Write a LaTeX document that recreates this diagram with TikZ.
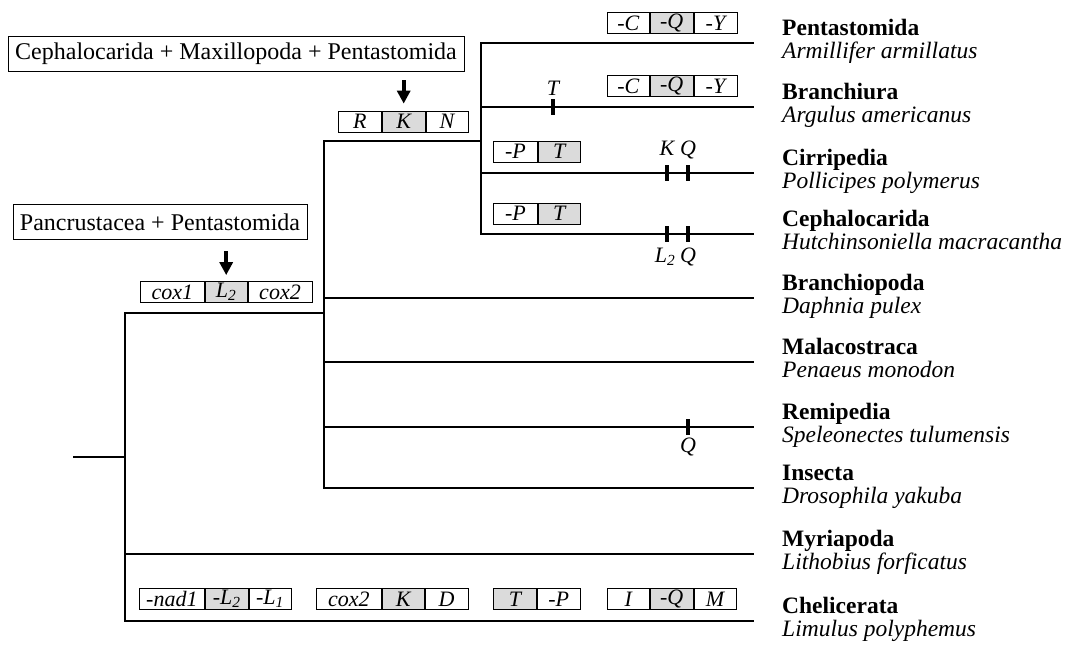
\documentclass[tikz,border=0pt]{standalone}
\usepackage{fontspec}
\setmainfont{Liberation Serif}
\usetikzlibrary{positioning,arrows.meta}

\tikzset{
  branch/.style={line width=1.8pt, line cap=rect},
  snp/.style={line width=3.6pt},
  snplabel/.style={anchor=base, inner sep=0pt, font=\fontsize{22}{22}\selectfont\itshape},
  cell/.style={draw, line width=0.8pt, fill=white, minimum height=21pt, inner sep=0pt,
    anchor=west, font=\fontsize{22}{22}\selectfont\itshape},
  cellg/.style={cell, fill=black!14},
  cladebox/.style={draw, line width=1pt, minimum height=35pt, inner sep=0pt,
    font=\fontsize{24}{24}\selectfont},
  pointer/.style={line width=3.6pt, -{Triangle[width=13pt,length=13pt]}},
  taxon/.style={anchor=base west, inner sep=0pt, font=\fontsize{23.5}{24}\selectfont\bfseries},
  species/.style={anchor=base west, inner sep=0pt, font=\fontsize{23.5}{24}\selectfont\itshape}
}

\begin{document}
\begin{tikzpicture}[x=1pt, y=-1pt, node distance=0pt]
\useasboundingbox (0,0) rectangle (1076,646);

% taxa
\foreach \y/\tax/\spec/\nm in {43/Pentastomida/Armillifer armillatus/pen,
  107/Branchiura/Argulus americanus/bru, 173/Cirripedia/Pollicipes polymerus/cir,
  234/Cephalocarida/Hutchinsoniella macracantha/cep, 298/Branchiopoda/Daphnia pulex/brp,
  362/Malacostraca/Penaeus monodon/mal, 427/Remipedia/Speleonectes tulumensis/rem,
  488/Insecta/Drosophila yakuba/ins, 554/Myriapoda/Lithobius forficatus/myr,
  621/Chelicerata/Limulus polyphemus/che}{
  \coordinate (t\nm) at (753,\y);
  \node[taxon] (\nm-t) at (782,\y-8) {\tax};
  \node[species] (\nm-s) at (782,\y+15) {\spec};
}

% tree
\coordinate (root) at (74,457);
\coordinate (arth) at (125,457);
\coordinate (pan) at (324,313);
\coordinate (cmp) at (481,141);
\draw[branch] (root) -- (arth);
\draw[branch] (pan) -| (arth);
\draw[branch] (tche) -| (arth);
\draw[branch] (tmyr) -- (tmyr -| arth);
\draw[branch] (cmp) -| (pan);
\draw[branch] (tins) -| (pan);
\draw[branch] (tbrp) -- (tbrp -| pan);
\draw[branch] (tmal) -- (tmal -| pan);
\draw[branch] (trem) -- (trem -| pan);
\draw[branch] (tpen) -| (cmp);
\draw[branch] (tcep) -| (cmp);
\draw[branch] (tbru) -- (tbru -| cmp);
\draw[branch] (tcir) -- (tcir -| cmp);

% single changes on branches
\coordinate (sT) at (553,107);
\coordinate (sK) at (667,173);
\coordinate (sQ1) at (688,173);
\coordinate (sL) at (667,234);
\coordinate (sQ2) at (688,234);
\coordinate (sQ3) at (688,427);
\foreach \s in {sT,sK,sQ1,sL,sQ2,sQ3}
  \draw[snp] ([yshift=8pt]\s) -- ([yshift=-8pt]\s);
\node[snplabel] (lT) at (553,95) {T};
\node[snplabel] (lK) at (667,155) {K};
\node[snplabel] (lQ1) at (688,155) {Q};
\node[snplabel] (lL) at (665,262) {L\textsubscript{2}};
\node[snplabel] (lQ2) at (688,262) {Q};
\node[snplabel] (lQ3) at (688,452) {Q};

% gene order boxes
\node[cell, minimum width=42pt] (pa1) at (607,23) {-C};
\node[cellg, minimum width=43pt, right=of pa1] (pa2) {-Q};
\node[cell, minimum width=43pt, right=of pa2] (pa3) {-Y};

\node[cell, minimum width=42pt] (ba1) at (607,86) {-C};
\node[cellg, minimum width=43pt, right=of ba1] (ba2) {-Q};
\node[cell, minimum width=43pt, right=of ba2] (ba3) {-Y};

\node[cell, minimum width=43pt] (ca1) at (338,121.5) {R};
\node[cellg, minimum width=43pt, right=of ca1] (ca2) {K};
\node[cell, minimum width=42pt, right=of ca2] (ca3) {N};

\node[cell, minimum width=44pt] (ci1) at (493,151.5) {-P};
\node[cellg, minimum width=42pt, right=of ci1] (ci2) {T};

\node[cell, minimum width=44pt] (ce1) at (493,213.5) {-P};
\node[cellg, minimum width=42pt, right=of ce1] (ce2) {T};

\node[cell, minimum width=64pt] (pc1) at (140,292) {cox1};
\node[cellg, minimum width=42pt, right=of pc1] (pc2) {L\textsubscript{2}};
\node[cell, minimum width=64pt, right=of pc2] (pc3) {cox2};

\node[cell, minimum width=65pt] (ch1) at (139,599) {-nad1};
\node[cellg, minimum width=43pt, right=of ch1] (ch2) {-L\textsubscript{2}};
\node[cell, minimum width=42pt, right=of ch2] (ch3) {-L\textsubscript{1}};

\node[cell, minimum width=65pt] (ch4) at (316,599) {cox2};
\node[cellg, minimum width=42pt, right=of ch4] (ch5) {K};
\node[cell, minimum width=43pt, right=of ch5] (ch6) {D};

\node[cellg, minimum width=43pt] (ch7) at (493,599) {T};
\node[cell, minimum width=43pt, right=of ch7] (ch8) {-P};

\node[cell, minimum width=42pt] (ch9) at (607,599) {I};
\node[cellg, minimum width=43pt, right=of ch9] (ch10) {-Q};
\node[cell, minimum width=42pt, right=of ch10] (ch11) {M};

% clade boxes
\node[cladebox, minimum width=456pt] (cmpbox) at (236,54) {Cephalocarida + Maxillopoda + Pentastomida};
\node[cladebox, minimum width=294pt] (panbox) at (160,222) {Pancrustacea + Pentastomida};
\draw[pointer] ([yshift=-8pt]cmpbox.south -| ca2.north) -- ([yshift=7pt]ca2.north);
\draw[pointer] ([yshift=-11pt]panbox.south -| pc2.north) -- ([yshift=6pt]pc2.north);
\end{tikzpicture}
\end{document}
